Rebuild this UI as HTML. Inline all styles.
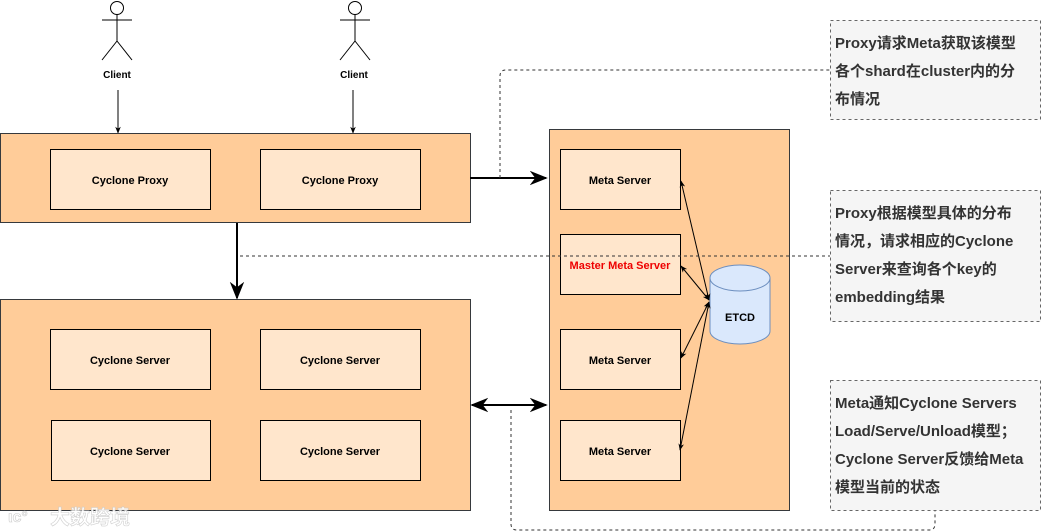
<!DOCTYPE html>
<html><head><meta charset="utf-8"><style>
html,body{margin:0;padding:0;background:#fff;}
svg{display:block;}
text{font-family:"Liberation Sans","Noto Sans CJK SC",sans-serif;font-weight:bold;}
</style></head><body>
<svg width="1041" height="532" viewBox="0 0 1041 532" xmlns="http://www.w3.org/2000/svg">
<defs>
<marker id="a" viewBox="0 0 10 10" refX="9" refY="5" markerWidth="7" markerHeight="7" orient="auto-start-reverse"><path d="M0,1 L10,5 L0,9 L3,5 z" fill="#000"/></marker>
<marker id="s" viewBox="0 0 10 10" refX="9" refY="5" markerWidth="9" markerHeight="9" orient="auto-start-reverse"><path d="M0,1 L10,5 L0,9 L3,5 z" fill="#000"/></marker>
</defs>
<g stroke="#000" stroke-width="1" fill="none">
<circle cx="117" cy="8" r="6.5" fill="#fff"/><line x1="117" y1="14.5" x2="117" y2="41"/><line x1="102" y1="20" x2="132" y2="20"/><line x1="117" y1="41" x2="102" y2="60"/><line x1="117" y1="41" x2="132" y2="60"/>
<circle cx="355" cy="8" r="6.5" fill="#fff"/><line x1="355" y1="14.5" x2="355" y2="41"/><line x1="340" y1="20" x2="370" y2="20"/><line x1="355" y1="41" x2="340" y2="60"/><line x1="355" y1="41" x2="370" y2="60"/>
</g>
<text x="117" y="78" font-size="10" text-anchor="middle">Client</text>
<text x="354" y="78" font-size="10" text-anchor="middle">Client</text>
<line x1="118" y1="90" x2="118" y2="133" stroke="#000" marker-end="url(#a)"/>
<line x1="353" y1="90" x2="353" y2="133" stroke="#000" marker-end="url(#a)"/>
<g fill="#ffcc99" stroke="#36393d" stroke-width="1">
<rect x="0.5" y="133.5" width="470" height="89"/>
<rect x="0.5" y="299.5" width="470" height="211"/>
<rect x="549.5" y="129.5" width="240" height="381"/>
</g>
<g fill="#ffe6cc" stroke="#000" stroke-width="1">
<rect x="50.5" y="149.5" width="160" height="60"/><rect x="260.5" y="149.5" width="160" height="60"/>
<rect x="50.5" y="329.5" width="160" height="60"/><rect x="260.5" y="329.5" width="160" height="60"/>
<rect x="51.5" y="420.5" width="159" height="60"/><rect x="260.5" y="420.5" width="160" height="60"/>
<rect x="560.5" y="149.5" width="120" height="60"/><rect x="560.5" y="234.5" width="120" height="60"/>
<rect x="560.5" y="329.5" width="120" height="60"/><rect x="560.5" y="420.5" width="120" height="60"/>
</g>
<g font-size="11" text-anchor="middle">
<text x="130" y="184">Cyclone Proxy</text><text x="340" y="184">Cyclone Proxy</text>
<text x="130" y="364">Cyclone Server</text><text x="340" y="364">Cyclone Server</text>
<text x="130" y="455">Cyclone Server</text><text x="340" y="455">Cyclone Server</text>
<text x="620" y="184">Meta Server</text>
<text x="620" y="269" fill="#e00">Master Meta Server</text>
<text x="620" y="364">Meta Server</text><text x="620" y="455">Meta Server</text>
</g>
<path d="M710,278 L710,331 A30,13 0 0 0 770,331 L770,278" fill="#dae8fc" stroke="#6c8ebf"/>
<ellipse cx="740" cy="278" rx="30" ry="13" fill="#dae8fc" stroke="#6c8ebf"/>
<text x="740" y="321" font-size="11" text-anchor="middle">ETCD</text>
<g stroke="#000" stroke-width="1">
<line x1="709" y1="300" x2="681" y2="181" marker-start="url(#a)" marker-end="url(#a)"/>
<line x1="709" y1="300" x2="681" y2="266" marker-start="url(#a)" marker-end="url(#a)"/>
<line x1="709" y1="302" x2="681" y2="358" marker-start="url(#a)" marker-end="url(#a)"/>
<line x1="709" y1="302" x2="680" y2="450" marker-start="url(#a)" marker-end="url(#a)"/>
</g>
<g stroke="#000" stroke-width="2">
<line x1="470" y1="178" x2="546" y2="178" marker-end="url(#s)"/>
<line x1="237" y1="223" x2="237" y2="298" marker-end="url(#s)"/>
<line x1="472" y1="405" x2="546" y2="405" marker-start="url(#s)" marker-end="url(#s)"/>
</g>
<g stroke="#333" stroke-dasharray="3,3" fill="none" stroke-width="1">
<path d="M500,178 L500,76 Q500,70 506,70 L830,70"/>
<path d="M240,256 L830,256"/>
<path d="M511,410 L511,524 Q511,530 517,530 L929,530 Q935,530 935,524 L935,510"/>
</g>
<g fill="#f5f5f5" stroke="#666" stroke-dasharray="3,3">
<rect x="830.5" y="20.5" width="210" height="99"/>
<rect x="830.5" y="190.5" width="210" height="131"/>
<rect x="830.5" y="380.5" width="210" height="130"/>
</g>
<g font-size="15" fill="#333">
<text x="835" y="48">Proxy请求Meta获取该模型</text>
<text x="835" y="76">各个shard在cluster内的分</text>
<text x="835" y="104">布情况</text>
<text x="835" y="218">Proxy根据模型具体的分布</text>
<text x="835" y="246">情况，请求相应的Cyclone</text>
<text x="835" y="274">Server来查询各个key的</text>
<text x="835" y="302">embedding结果</text>
<text x="835" y="408">Meta通知Cyclone Servers</text>
<text x="835" y="436">Load/Serve/Unload模型；</text>
<text x="835" y="464">Cyclone Server反馈给Meta</text>
<text x="835" y="492">模型当前的状态</text>
</g>
<text x="50" y="524" font-size="20" fill="#fff" stroke="#ccc" stroke-width="0.6" opacity="0.9">大数跨境</text>
<text x="8" y="522" font-size="16" fill="#fff" stroke="#ccc" stroke-width="0.6">ιᴄ°</text>
</svg>
</body></html>
